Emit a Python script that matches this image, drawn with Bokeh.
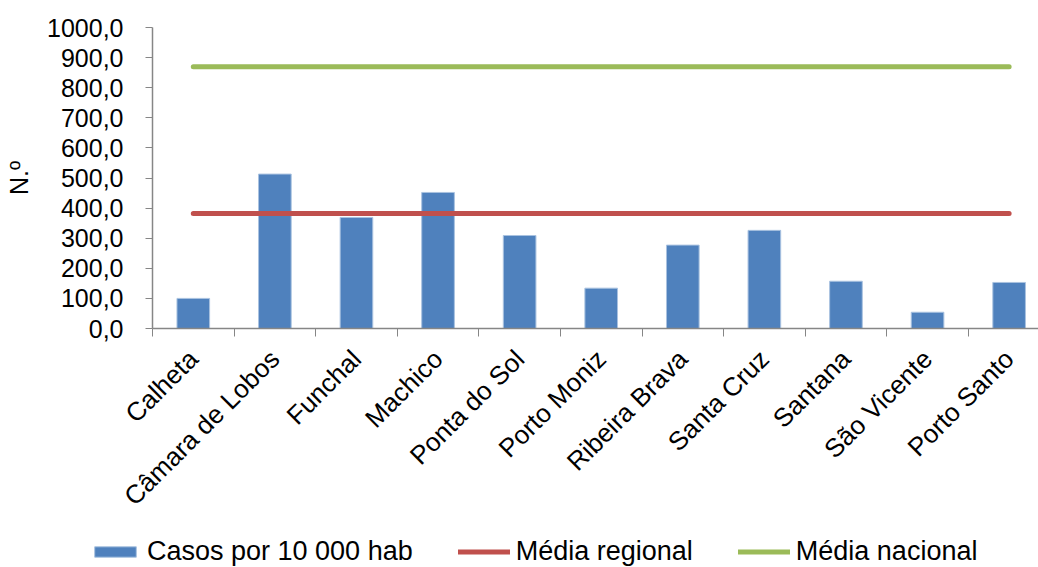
import numpy as np
from bokeh.plotting import figure
from bokeh.layouts import column
from bokeh.models import Range1d, FixedTicker, Legend, LegendItem
from bokeh.embed import file_html
from bokeh.resources import INLINE

# Concelhos da Região Autónoma da Madeira
concelhos = ["Calheta", "Câmara de Lobos", "Funchal", "Machico", "Ponta do Sol",
             "Porto Moniz", "Ribeira Brava", "Santa Cruz", "Santana", "São Vicente",
             "Porto Santo"]
casos_10000 = [100, 513, 369, 452, 309, 134, 277, 326, 157, 54, 153]
media_regional = 382
media_nacional = 870
y_ticks = [0, 100, 200, 300, 400, 500, 600, 700, 800, 900, 1000]

FONT = "Liberation Sans"
AXIS_GREY = "#868686"
AZUL, VERMELHO, VERDE = "#4F81BD", "#C0504D", "#9BBB59"

n = len(concelhos)
centros = np.arange(n) + 0.5
limites = np.arange(n + 1)


def series(fig, **kw):
    """Barras e linhas de referência, com o mesmo estilo em qualquer figura."""
    b = fig.vbar(x=centros, top=casos_10000, width=0.4, fill_color=AZUL,
                 line_color="#A9C2E0", line_width=1, **kw)
    r = fig.line(x=centros, y=[media_regional] * n, line_color=VERMELHO,
                 line_width=5, line_cap="round", **kw)
    v = fig.line(x=centros, y=[media_nacional] * n, line_color=VERDE,
                 line_width=5, line_cap="round", **kw)
    return b, r, v


p = figure(width=1038, height=527, output_backend="svg", toolbar_location=None,
           x_range=Range1d(0, 10.86), y_range=Range1d(0, 1000),
           min_border_left=152, min_border_right=0, min_border_top=27,
           min_border_bottom=199)
p.frame_align = False
p.outline_line_color = None
p.grid.visible = False
series(p)

# Eixo X: rótulos no centro de cada concelho, marcas nos limites
xa = p.xaxis[0]
xa.ticker = FixedTicker(ticks=list(centros), minor_ticks=list(limites))
xa.major_label_overrides = {float(c): nome for c, nome in zip(centros, concelhos)}
xa.major_label_orientation = np.pi / 4
xa.major_tick_out = 0
xa.major_tick_in = 0
xa.minor_tick_out = 8
xa.minor_tick_in = 0
xa.minor_tick_line_color = AXIS_GREY
xa.axis_line_color = AXIS_GREY
xa.axis_line_width = 1.5
xa.major_label_text_font = FONT
xa.major_label_text_font_size = "26px"
xa.major_label_text_color = "#000000"
xa.major_label_standoff = 18

# Eixo Y
ya = p.yaxis[0]
ya.ticker = FixedTicker(ticks=y_ticks)
ya.major_label_overrides = {t: f"{t:.1f}".replace(".", ",") for t in y_ticks}
ya.minor_tick_line_color = None
ya.major_tick_out = 7
ya.major_tick_in = 0
ya.major_tick_line_color = AXIS_GREY
ya.axis_line_color = AXIS_GREY
ya.axis_line_width = 1.5
ya.major_label_text_font = FONT
ya.major_label_text_font_size = "25px"
ya.major_label_text_color = "#000000"
ya.major_label_standoff = 22
ya.axis_label = "N.º"
ya.axis_label_text_font = FONT
ya.axis_label_text_font_size = "25px"
ya.axis_label_text_font_style = "normal"
ya.axis_label_text_color = "#000000"
ya.axis_label_standoff = 11

# Faixa da legenda, por baixo do gráfico
leg = figure(width=1038, height=40, output_backend="svg", toolbar_location=None,
             x_range=Range1d(0, 1), y_range=Range1d(0, 1),
             min_border_left=0, min_border_right=0, min_border_top=0,
             min_border_bottom=0)
leg.frame_align = False
leg.axis.visible = False
leg.grid.visible = False
leg.outline_line_color = None
r_barras, r_reg, r_nac = series(leg, visible=False)

legend = Legend(items=[
    LegendItem(label="Casos por 10 000 hab", renderers=[r_barras]),
    LegendItem(label="Média regional", renderers=[r_reg]),
    LegendItem(label="Média nacional", renderers=[r_nac]),
], orientation="horizontal", location=(89, 0))
legend.label_text_font = FONT
legend.label_text_font_size = "27px"
legend.label_text_color = "#000000"
legend.glyph_width = 52
legend.glyph_height = 13
legend.label_standoff = 6
legend.spacing = 45
legend.padding = 0
legend.margin = 0
legend.border_line_color = None
legend.background_fill_alpha = 0
legend.inactive_fill_alpha = 0
leg.add_layout(legend, "center")

open("out.html", "w").write(file_html(column(p, leg, spacing=0), INLINE))
